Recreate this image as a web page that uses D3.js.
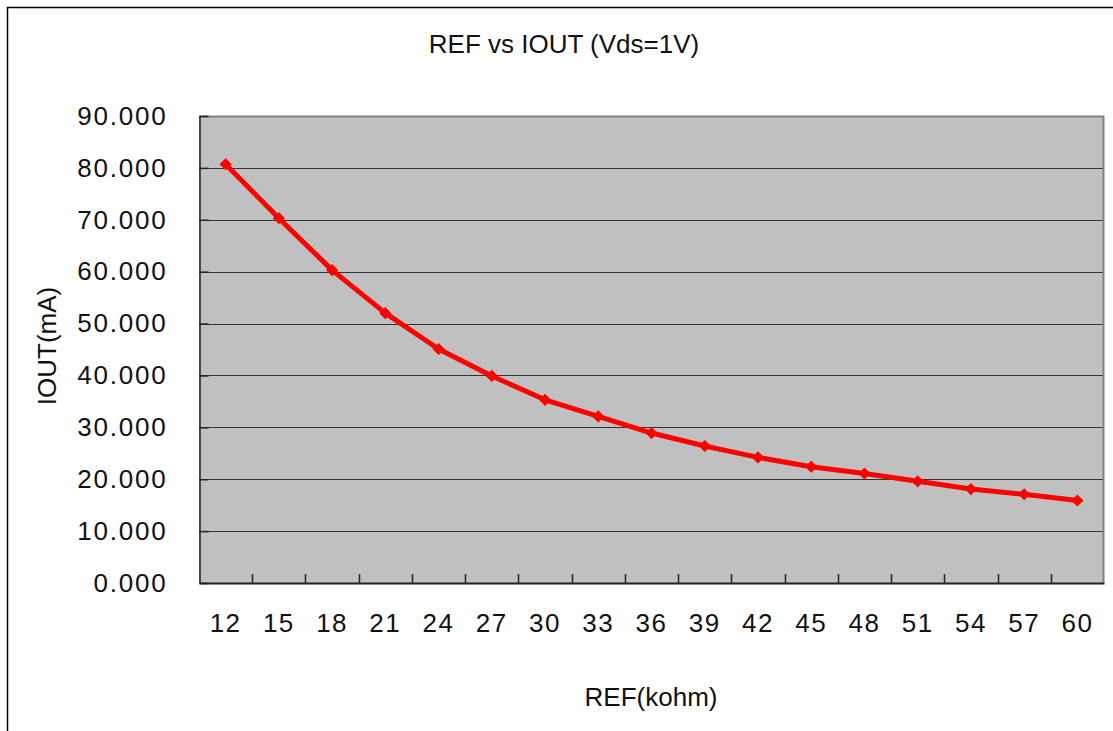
<!DOCTYPE html>
<html>
<head>
<meta charset="utf-8">
<script src="https://cdn.jsdelivr.net/npm/d3@7"></script>
<style>
  html, body { margin: 0; padding: 0; background: #fff; }
  svg { display: block; }
  text { font-family: "Liberation Sans", Arial, sans-serif; fill: #111; }
</style>
</head>
<body>
<svg id="chart" width="1113" height="731"></svg>
<script>
const categories = ["12","15","18","21","24","27","30","33","36","39","42","45","48","51","54","57","60"];
const iout = [80.7, 70.3, 60.3, 52.0, 45.1, 39.9, 35.3, 32.1, 28.9, 26.4, 24.2, 22.4, 21.1, 19.6, 18.1, 17.1, 15.9];
const yTicks = [0, 10, 20, 30, 40, 50, 60, 70, 80, 90];
const title = "REF vs IOUT (Vds=1V)";
const xTitle = "REF(kohm)";
const yTitle = "IOUT(mA)";

const svg = d3.select("#chart");
const W = 1113, H = 731;
const plot = { left: 199, right: 1104, top: 116, bottom: 583 };

// outer chart border
svg.append("rect").attr("x", 7.5).attr("y", 7.5).attr("width", W + 20).attr("height", H + 20)
  .attr("fill", "#fff").attr("stroke", "#000").attr("stroke-width", 1.5);

const x = d3.scaleBand().domain(categories).range([plot.left, plot.right]);
const y = d3.scaleLinear().domain([0, 90]).range([plot.bottom, plot.top]);

// plot background
svg.append("rect").attr("x", plot.left).attr("y", plot.top)
  .attr("width", plot.right - plot.left).attr("height", plot.bottom - plot.top)
  .attr("fill", "#c0c0c0");

// gridlines
svg.append("g").selectAll("line").data(yTicks.filter(d => d > 0 && d < 90)).join("line")
  .attr("x1", plot.left).attr("x2", plot.right)
  .attr("y1", d => Math.round(y(d)) + 0.5).attr("y2", d => Math.round(y(d)) + 0.5)
  .attr("stroke", "#333").attr("stroke-width", 1);

// top and right border (gray)
svg.append("path")
  .attr("d", `M${plot.left},${plot.top + 0.5}H${plot.right - 0.5}V${plot.bottom}`)
  .attr("fill", "none").attr("stroke", "#808080").attr("stroke-width", 2);

// y axis
const yAxis = d3.axisLeft(y).tickValues(yTicks).tickFormat(d3.format(".3f"))
  .tickSizeInner(-9).tickSizeOuter(0).tickPadding(32);
const gy = svg.append("g").attr("transform", `translate(${plot.left + 0.5},0)`).call(yAxis);
gy.select(".domain").attr("stroke", "#222").attr("stroke-width", 1.5);
gy.selectAll(".tick line").attr("stroke", "#222").attr("stroke-width", 1.5);
gy.selectAll(".tick text").attr("font-size", 26).attr("letter-spacing", "1.8px")
  .attr("fill", "#111").attr("font-family", "Liberation Sans, Arial, sans-serif");

// x axis
const xAxis = d3.axisBottom(x).tickSize(0).tickPadding(31);
const gx = svg.append("g").attr("transform", `translate(0,${plot.bottom})`).call(xAxis);
gx.select(".domain").attr("stroke", "#222").attr("stroke-width", 2);
gx.selectAll(".tick text").attr("font-size", 26).attr("letter-spacing", "1.5px")
  .attr("fill", "#111").attr("font-family", "Liberation Sans, Arial, sans-serif");
// category boundary ticks (inside, pointing up)
svg.append("g").selectAll("line").data(categories.slice(1)).join("line")
  .attr("x1", d => Math.round(x(d)) + 0.5).attr("x2", d => Math.round(x(d)) + 0.5)
  .attr("y1", plot.bottom).attr("y2", plot.bottom - 9)
  .attr("stroke", "#222").attr("stroke-width", 1.5);

// series line
const pts = categories.map((c, i) => [x(c) + x.bandwidth() / 2, y(iout[i])]);
svg.append("path").datum(pts)
  .attr("d", d3.line())
  .attr("fill", "none").attr("stroke", "#ff0000").attr("stroke-width", 5)
  .attr("stroke-linejoin", "round");

// diamond markers
svg.append("g").selectAll("path").data(pts).join("path")
  .attr("transform", d => `translate(${d[0]},${d[1]})`)
  .attr("d", d3.symbol(d3.symbolDiamond2, 95)())
  .attr("fill", "#ff0000");

// titles
svg.append("text").attr("x", 564).attr("y", 53).attr("text-anchor", "middle")
  .attr("font-size", 26).text(title);
svg.append("text").attr("x", 651).attr("y", 706).attr("text-anchor", "middle")
  .attr("font-size", 26).text(xTitle);
svg.append("text").attr("transform", "translate(56,346) rotate(-90)")
  .attr("text-anchor", "middle").attr("font-size", 26).text(yTitle);
</script>
</body>
</html>
